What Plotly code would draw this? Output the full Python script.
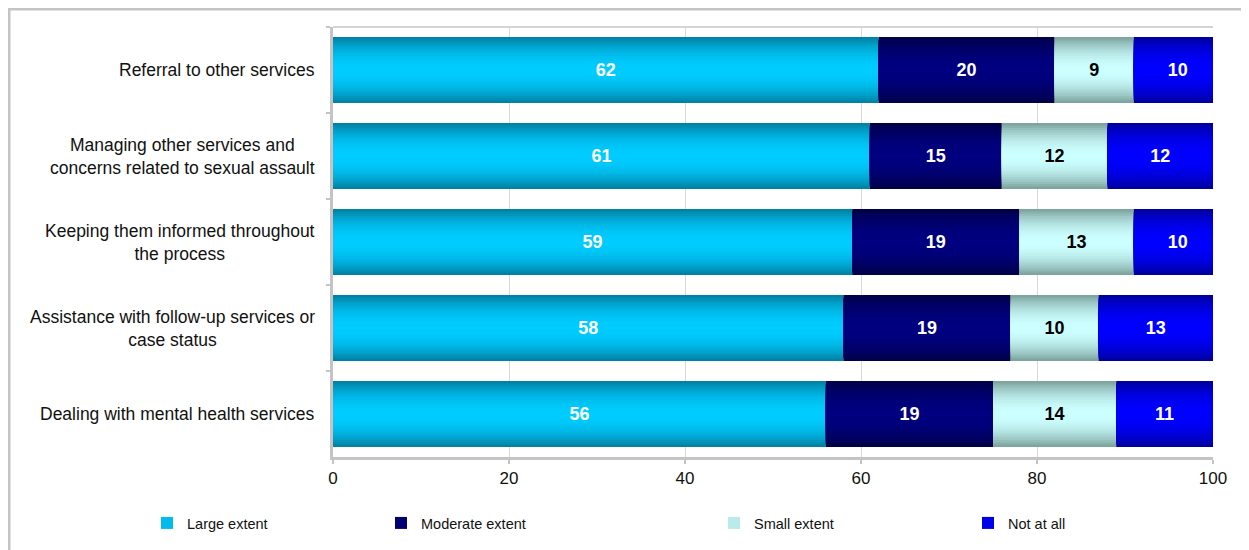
import plotly.graph_objects as go

categories = [
    "Referral to other services",
    "Managing other services and<br>concerns related to sexual assault",
    "Keeping them informed throughout<br>the process",
    "Assistance with follow-up services or<br>case status",
    "Dealing with mental health services",
]
series_names = ["Large extent", "Moderate extent", "Small extent", "Not at all"]
large_extent = [62, 61, 59, 58, 56]
moderate_extent = [20, 15, 19, 19, 19]
small_extent = [9, 12, 13, 10, 14]
not_at_all = [10, 12, 10, 13, 11]
x_ticks = [0, 20, 40, 60, 80, 100]

series_values = [large_extent, moderate_extent, small_extent, not_at_all]
# (edge colour, centre colour) of each gradient bar
series_colors = [
    ((0, 126, 160), (0, 204, 255)),
    ((0, 0, 70), (0, 0, 128)),
    ((120, 158, 152), (204, 255, 255)),
    ((0, 0, 155), (0, 0, 255)),
]
text_colors = ["white", "white", "black", "white"]

FONT = "Liberation Sans, Arial, sans-serif"
W = 0.766
N = 14

fig = go.Figure()


def mix(c1, c2, t):
    return "rgb(%d,%d,%d)" % tuple(round(a + (b - a) * t) for a, b in zip(c1, c2))


bases = [0] * len(categories)
for si, (name, vals) in enumerate(zip(series_names, series_values)):
    edge, centre = series_colors[si]
    for k in range(N):
        frac = 1 - k / N
        d = frac - 0.5 / N
        col = mix(centre, edge, d ** 2.0)
        fig.add_trace(go.Bar(
            y=categories, x=vals, base=list(bases), orientation="h",
            width=W * frac, marker=dict(color=col, line=dict(width=0)),
            name=name, showlegend=(k == N // 2),
            legend=["legend", "legend2", "legend3", "legend4"][si],
            hoverinfo="skip",
        ))
    # labels
    fig.add_trace(go.Bar(
        y=categories, x=vals, base=list(bases), orientation="h", width=W,
        marker=dict(color="rgba(0,0,0,0)", line=dict(width=0)),
        text=[str(v) for v in vals], textposition="inside",
        insidetextanchor="middle", constraintext="none",
        textfont=dict(family=FONT, size=18, color=text_colors[si], weight="bold"),
        showlegend=False, hoverinfo="skip",
    ))
    bases = [b + v for b, v in zip(bases, vals)]

# page body has an 8px margin, so figure px = screen px - 8
OFF = 8
WIDTH, HEIGHT = 1249 - OFF, 550 - OFF
PL, PR, PT, PB = 325, 36, 19, 92
pw = WIDTH - PL - PR
ph = HEIGHT - PT - PB


def px_x(x):  # figure px -> paper x
    return (x - PL) / pw


def px_y(y):  # figure px -> paper y
    return (HEIGHT - PB - y) / ph


annotations = [
    dict(text=c, x=0, xref="paper", y=c, yref="y", xanchor="right", xshift=-16,
         align="center", showarrow=False, font=dict(family=FONT, size=17.5, color="#111"))
    for c in categories
]

legend_text_starts = [187, 421, 754, 1008]  # screen px
legend_common = dict(orientation="h", yanchor="middle", xanchor="left",
                     font=dict(family=FONT, size=14.5, color="#111"),
                     bgcolor="rgba(0,0,0,0)", itemwidth=30, tracegroupgap=0)
legends = {}
for i, ts in enumerate(legend_text_starts):
    key = "legend" if i == 0 else "legend%d" % (i + 1)
    legends[key] = dict(legend_common, x=px_x(ts - OFF - 40), y=px_y(523 - OFF))

shapes = [
    # outer chart border (left and top)
    dict(type="path", xref="paper", yref="paper",
         path="M %f %f L %f %f L %f %f" % (px_x(1.0), px_y(HEIGHT + 10), px_x(1.0), px_y(1.0),
                                           px_x(WIDTH + 10), px_y(1.0)),
         line=dict(color="#c4c4c4", width=3)),
    # top frame of plot area
    dict(type="line", xref="paper", yref="paper", x0=0, x1=1, y0=1, y1=1,
         line=dict(color="#d4d4d4", width=2)),
]

fig.update_layout(
    width=WIDTH, height=HEIGHT,
    margin=dict(l=PL, r=PR, t=PT, b=PB),
    barmode="overlay",
    plot_bgcolor="white", paper_bgcolor="white",
    font=dict(family=FONT, size=16, color="#111"),
    annotations=annotations,
    shapes=shapes,
    **legends,
)
fig.update_xaxes(
    range=[0, 100], tickvals=x_ticks, ticktext=[str(t) for t in x_ticks],
    showgrid=True, gridcolor="#d9d9d9", gridwidth=1,
    showline=True, linecolor="#c4c4c4", linewidth=3,
    ticks="outside", ticklen=4, tickcolor="#c4c4c4", tickwidth=2,
    tickfont=dict(family=FONT, size=17, color="#111"), zeroline=False, fixedrange=True,
)
fig.update_yaxes(
    categoryorder="array", categoryarray=categories, autorange="reversed",
    showticklabels=False, showline=True, linecolor="#c4c4c4", linewidth=3,
    ticks="outside", tickson="boundaries", ticklen=4, tickcolor="#c4c4c4", tickwidth=2,
    showgrid=False, zeroline=False, fixedrange=True,
)

fig.write_html("out.html")
